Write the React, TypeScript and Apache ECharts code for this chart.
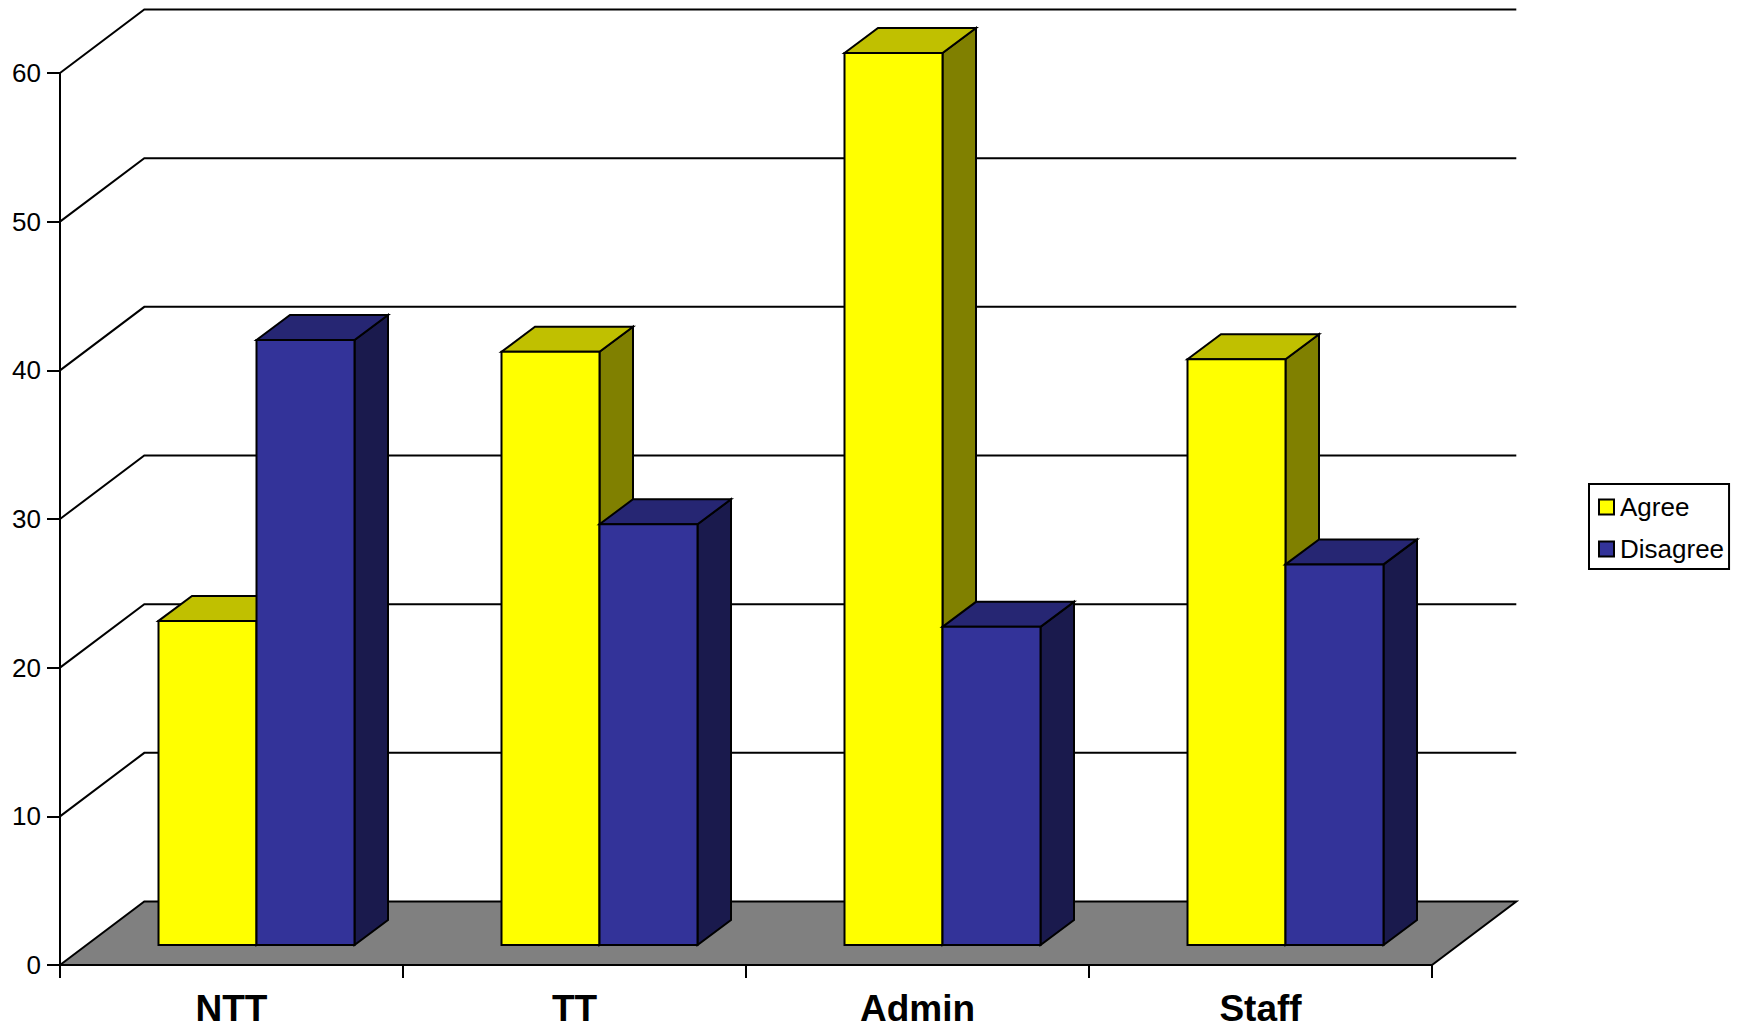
import React, { useEffect, useRef } from "react";
import * as echarts from "echarts";

const categories = ["NTT", "TT", "Admin", "Staff"];
const agree = [21.8, 39.9, 60, 39.4];
const disagree = [40.7, 28.3, 21.4, 25.6];
const wallTicks = [10, 20, 30, 40, 50, 60];

const FONT = "'Liberation Sans', Arial, sans-serif";
const FLOOR_DX = 84.3;
const FLOOR_DY = 63.5;
const FRONT_DX = 25;
const FRONT_DY = 20;
const BAR_W = 98;
const BAR_DX = 33.5;
const BAR_DY = 25;
const LINE = 2;

const barSeries = (name: string, values: number[], slot: number, front: string, top: string, side: string) => ({
  type: "custom",
  name,
  z: 4 + slot,
  silent: true,
  clip: false,
  itemStyle: { color: front, borderColor: "#000", borderWidth: 2 },
  data: values.map((v, i) => [i, v]),
  encode: { x: 0, y: 1 },
  renderItem: (_p: any, api: any) => {
    const idx = api.value(0);
    const c = api.coord([idx, api.value(1)]);
    const b = api.coord([idx, 0]);
    const x0 = c[0] + FRONT_DX + (slot - 1) * BAR_W;
    const x1 = x0 + BAR_W;
    const yT = c[1] - FRONT_DY;
    const yB = b[1] - FRONT_DY;
    const stroke = { stroke: "#000", lineWidth: LINE, lineJoin: "miter" };
    return {
      type: "group",
      children: [
        {
          type: "polygon",
          shape: { points: [[x1, yT], [x1 + BAR_DX, yT - BAR_DY], [x1 + BAR_DX, yB - BAR_DY], [x1, yB]] },
          style: { fill: side, ...stroke },
        },
        {
          type: "polygon",
          shape: { points: [[x0, yT], [x0 + BAR_DX, yT - BAR_DY], [x1 + BAR_DX, yT - BAR_DY], [x1, yT]] },
          style: { fill: top, ...stroke },
        },
        {
          type: "rect",
          shape: { x: x0, y: yT, width: BAR_W, height: yB - yT },
          style: { fill: front, ...stroke },
        },
      ],
    };
  },
});

export default function App() {
  const ref = useRef<HTMLDivElement>(null);
  useEffect(() => {
    const chart = echarts.init(ref.current!, undefined, { renderer: "svg" });
    chart.setOption({
      animation: false,
      backgroundColor: "#fff",
      grid: { left: 60, right: 307, top: 73, bottom: 63 },
      legend: {
        left: 1589,
        top: 484,
        orient: "vertical",
        data: ["Agree", "Disagree"],
        icon: "rect",
        itemWidth: 15,
        itemHeight: 15,
        itemGap: 12,
        padding: [8, 5, 5, 9],
        borderColor: "#000",
        borderWidth: 2,
        backgroundColor: "#fff",
        selectedMode: false,
        textStyle: { fontFamily: FONT, fontSize: 26, color: "#000", lineHeight: 30, padding: [0, 0, 0, 1] },
        itemStyle: { borderColor: "#000", borderWidth: 2 },
      },
      xAxis: {
        type: "category",
        data: categories,
        z: 6,
        axisLine: { lineStyle: { color: "#000", width: LINE } },
        axisTick: { show: true, length: 13, alignWithLabel: false, lineStyle: { color: "#000", width: LINE } },
        axisLabel: { fontFamily: FONT, fontSize: 37, lineHeight: 30, fontWeight: "bold", color: "#000", margin: 28, interval: 0 },
        splitLine: { show: false },
      },
      yAxis: {
        type: "value",
        min: 0,
        max: 60,
        interval: 10,
        z: 6,
        axisLine: { show: true, lineStyle: { color: "#000", width: LINE } },
        axisTick: { show: true, length: 13, lineStyle: { color: "#000", width: LINE } },
        axisLabel: { fontFamily: FONT, fontSize: 26, color: "#000", margin: 19 },
        splitLine: { show: false },
      },
      series: [
        {
          type: "custom",
          name: "floor",
          z: 2,
          silent: true,
          clip: false,
          data: [[0, 0]],
          encode: { x: 0, y: 1 },
          renderItem: (p: any, api: any) => {
            const cs = p.coordSys;
            const y = api.coord([0, 0])[1];
            const l = cs.x;
            const r = cs.x + cs.width;
            return {
              type: "polygon",
              shape: { points: [[l, y], [l + FLOOR_DX, y - FLOOR_DY], [r + FLOOR_DX, y - FLOOR_DY], [r, y]] },
              style: { fill: "#808080", stroke: "#000", lineWidth: LINE },
            };
          },
        },
        {
          type: "custom",
          name: "walls",
          z: 2,
          silent: true,
          clip: false,
          data: wallTicks.map((v) => [0, v]),
          encode: { x: 0, y: 1 },
          renderItem: (p: any, api: any) => {
            const cs = p.coordSys;
            const y = api.coord([0, api.value(1)])[1];
            const l = cs.x;
            const r = cs.x + cs.width;
            return {
              type: "polyline",
              shape: { points: [[l, y], [l + FLOOR_DX, y - FLOOR_DY], [r + FLOOR_DX, y - FLOOR_DY]] },
              style: { fill: "none", stroke: "#000", lineWidth: LINE },
            };
          },
        },
        barSeries("Agree", agree, 0, "#FFFF00", "#C0C000", "#808000"),
        barSeries("Disagree", disagree, 1, "#333399", "#262673", "#1A1A4D"),
      ],
    });
    return () => chart.dispose();
  }, []);
  return <div ref={ref} style={{ position: "absolute", left: 0, top: 0, width: 1739, height: 1028, overflow: "hidden" }} />;
}
